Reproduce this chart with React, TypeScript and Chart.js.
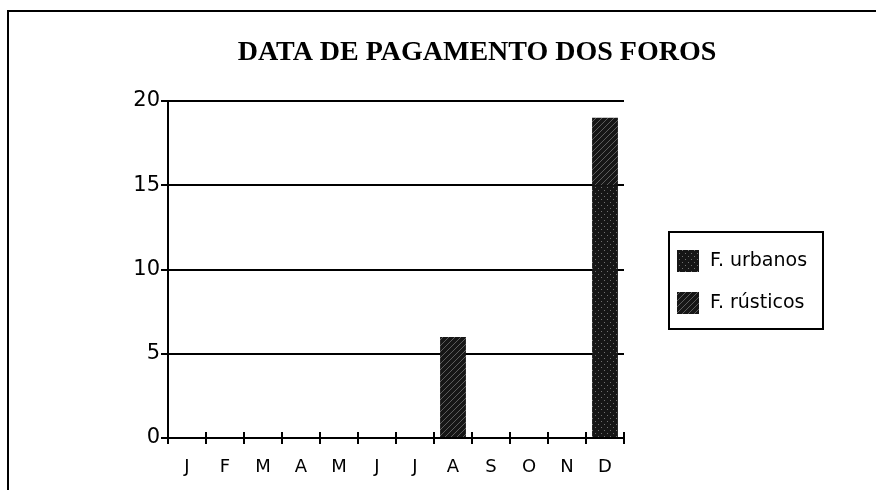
import React, { useEffect, useRef } from "react";
import { Chart, registerables } from "chart.js";
Chart.register(...registerables);

const TITLE = "DATA DE PAGAMENTO DOS FOROS";
const MONTHS = ["J", "F", "M", "A", "M", "J", "J", "A", "S", "O", "N", "D"];
const URBANOS = [0, 0, 0, 0, 0, 0, 0, 0, 0, 0, 0, 15];
const RUSTICOS = [0, 0, 0, 0, 0, 0, 0, 6, 0, 0, 0, 4];
const SERIES_LABELS = ["F. urbanos", "F. rústicos"];
const Y_MIN = 0;
const Y_MAX = 20;
const Y_STEP = 5;

const SANS = "'DejaVu Sans', sans-serif";

function makePattern(kind: "dots" | "hatch") {
  const c = document.createElement("canvas");
  c.width = 6;
  c.height = 6;
  const g = c.getContext("2d")!;
  g.fillStyle = "#161616";
  g.fillRect(0, 0, 6, 6);
  if (kind === "dots") {
    g.fillStyle = "#707070";
    g.fillRect(1, 1, 1, 1);
    g.fillRect(4, 4, 1, 1);
  } else {
    g.strokeStyle = "#5c5c5c";
    g.lineWidth = 1;
    g.beginPath();
    g.moveTo(-1, 7);
    g.lineTo(7, -1);
    g.moveTo(-4, 4);
    g.lineTo(4, -4);
    g.moveTo(2, 10);
    g.lineTo(10, 2);
    g.stroke();
  }
  return g.createPattern(c, "repeat")!;
}

export default function App() {
  const ref = useRef<HTMLCanvasElement | null>(null);

  useEffect(() => {
    const canvas = ref.current!;
    const dots = makePattern("dots");
    const hatch = makePattern("hatch");
    const fills = [dots, hatch];

    const decor = {
      id: "decor",
      afterDraw(chart: any) {
        const ctx = chart.ctx as CanvasRenderingContext2D;
        const xs = chart.scales.x;
        const ys = chart.scales.y;
        ctx.save();
        // frame
        ctx.strokeStyle = "#000";
        ctx.lineWidth = 2;
        ctx.beginPath();
        ctx.moveTo(8, 490);
        ctx.lineTo(8, 11);
        ctx.lineTo(876, 11);
        ctx.stroke();
        // title
        ctx.fillStyle = "#000";
        ctx.font = "bold 28px 'Liberation Serif', 'Times New Roman', serif";
        ctx.textAlign = "center";
        ctx.textBaseline = "middle";
        ctx.fillText(TITLE, 477, 53);
        // upward halves of x-axis tick crosses
        const y0 = ys.getPixelForValue(0);
        const n = MONTHS.length;
        ctx.lineWidth = 2;
        ctx.beginPath();
        for (let i = 0; i <= n; i++) {
          const x = Math.round(xs.left + (i * xs.width) / n);
          ctx.moveTo(x, y0 - 6);
          ctx.lineTo(x, y0);
        }
        ctx.stroke();
        // legend
        const bx = 669, by = 232, bw = 154, bh = 97;
        ctx.lineWidth = 2;
        ctx.strokeRect(bx, by, bw, bh);
        ctx.font = `19px ${SANS}`;
        ctx.textAlign = "left";
        ctx.textBaseline = "middle";
        SERIES_LABELS.forEach((lab, i) => {
          const cy = by + 29 + i * 42;
          ctx.fillStyle = fills[i];
          ctx.fillRect(bx + 8, cy - 11, 22, 22);
          ctx.fillStyle = "#000";
          ctx.fillText(lab, bx + 41, cy);
        });
        ctx.restore();
      },
    };

    const chart = new Chart(canvas, {
      type: "bar",
      data: {
        labels: MONTHS,
        datasets: [
          { label: SERIES_LABELS[0], data: URBANOS, backgroundColor: dots, borderWidth: 0, barPercentage: 0.68, categoryPercentage: 1 },
          { label: SERIES_LABELS[1], data: RUSTICOS, backgroundColor: hatch, borderWidth: 0, barPercentage: 0.68, categoryPercentage: 1 },
        ],
      },
      options: {
        responsive: false,
        animation: false,
        devicePixelRatio: 1,
        layout: { padding: { top: 101, right: 252, bottom: 0, left: 0 } },
        plugins: { legend: { display: false }, title: { display: false }, tooltip: { enabled: false } },
        scales: {
          x: {
            stacked: true,
            grid: { display: true, drawOnChartArea: false, color: "#000", lineWidth: 2, tickLength: 6, offset: true },
            border: { display: true, color: "#000", width: 2 },
            ticks: { color: "#000", font: { family: SANS, size: 18 }, padding: 13 },
            afterFit: (s: any) => { s.height = 52; },
          },
          y: {
            stacked: true,
            min: Y_MIN,
            max: Y_MAX,
            ticks: { stepSize: Y_STEP, color: "#000", font: { family: SANS, size: 21 }, padding: 1 },
            grid: { color: "#000", lineWidth: 2, tickLength: 7 },
            border: { display: true, color: "#000", width: 2 },
            afterFit: (s: any) => { s.width = 168; },
          },
        },
      },
      plugins: [decor],
    } as any);
    return () => chart.destroy();
  }, []);

  return (
    <div style={{ position: "absolute", left: 0, top: 0, width: 876, height: 490, background: "#fff" }}>
      <canvas ref={ref} width={876} height={490} style={{ display: "block" }} />
    </div>
  );
}
